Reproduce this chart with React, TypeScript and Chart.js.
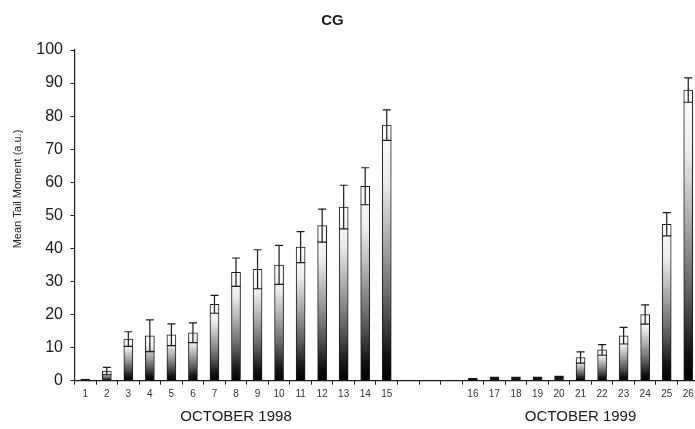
import React, { useEffect, useRef } from "react";
import { Chart, registerables } from "chart.js";

Chart.register(...registerables);

// ---- data ----
const dayLabels = [
  "1", "2", "3", "4", "5", "6", "7", "8", "9", "10", "11", "12", "13", "14", "15",
  "", "", "",
  "16", "17", "18", "19", "20", "21", "22", "23", "24", "25", "26",
];
const meanTailMoment: (number | null)[] = [
  0.5, 2.9, 12.6, 13.6, 13.9, 14.5, 23.1, 32.8, 33.7, 35.0, 40.4, 46.9, 52.5, 58.8, 77.3,
  null, null, null,
  0.8, 1.2, 1.2, 1.2, 1.5, 7.0, 9.3, 13.6, 20.0, 47.3, 87.9,
];
const errorValues: (number | null)[] = [
  0, 1.1, 2.2, 4.8, 3.3, 3.0, 2.7, 4.3, 5.9, 5.9, 4.7, 5.0, 6.6, 5.6, 4.6,
  null, null, null,
  0, 0, 0, 0, 0, 1.7, 1.6, 2.5, 2.9, 3.5, 3.7,
];
const yMin = 0;
const yMax = 100;
const yStep = 10;
const chartTitle = "CG";
const yAxisTitle = "Mean Tail Moment (a.u.)";
const groupLabels = ["OCTOBER 1998", "OCTOBER 1999"];
const groupCenterLabels = ["8", "21"];

const FONT = "'Liberation Sans', Arial, Helvetica, sans-serif";
const INK = "#1a1a1a";

const overlayPlugin = {
  id: "overlay",
  afterDatasetsDraw(chart: any) {
    const ctx = chart.ctx;
    const ys = chart.scales.y;
    const meta = chart.getDatasetMeta(0);
    ctx.save();
    ctx.strokeStyle = INK;
    ctx.lineWidth = 1.2;
    meta.data.forEach((el: any, i: number) => {
      const v = meanTailMoment[i];
      const e = errorValues[i];
      if (v == null || !e) return;
      const x = el.x;
      const yTop = ys.getPixelForValue(v + e);
      const yBot = ys.getPixelForValue(Math.max(0, v - e));
      const halfBar = el.width / 2;
      ctx.beginPath();
      ctx.moveTo(x, yBot);
      ctx.lineTo(x, yTop);
      ctx.moveTo(x - 4, yTop);
      ctx.lineTo(x + 4, yTop);
      ctx.moveTo(x - halfBar, yBot);
      ctx.lineTo(x + halfBar, yBot);
      ctx.stroke();
    });
    ctx.restore();
  },
  afterDraw(chart: any) {
    const ctx = chart.ctx;
    const xs = chart.scales.x;
    ctx.save();
    ctx.fillStyle = INK;
    ctx.textAlign = "center";
    ctx.textBaseline = "middle";
    ctx.font = `bold 15px ${FONT}`;
    ctx.fillText(chartTitle, 332.5, 20.5);

    ctx.font = `15px ${FONT}`;
    groupLabels.forEach((g, i) => {
      const idx = dayLabels.indexOf(groupCenterLabels[i]);
      ctx.fillText(g, xs.getPixelForValue(idx), 416.5);
    });

    ctx.translate(18, 189);
    ctx.rotate(-Math.PI / 2);
    ctx.font = `11px ${FONT}`;
    ctx.fillText(yAxisTitle, 0, 0);
    ctx.restore();
  },
};

function barFill(c: any) {
  const chart = c.chart;
  const v = c.raw;
  const ys = chart.scales && chart.scales.y;
  if (v == null || !ys || !chart.chartArea) return "#111";
  const base = ys.getPixelForValue(0);
  const top = ys.getPixelForValue(v);
  if (Math.abs(base - top) < 7) return "#111";
  const g = chart.ctx.createLinearGradient(0, base, 0, top);
  g.addColorStop(0, "#000000");
  g.addColorStop(0.1, "#141414");
  g.addColorStop(0.3, "#5e5e5e");
  g.addColorStop(0.55, "#ababab");
  g.addColorStop(0.78, "#ececec");
  g.addColorStop(1, "#ffffff");
  return g;
}

export default function App() {
  const canvasRef = useRef<HTMLCanvasElement | null>(null);

  useEffect(() => {
    if (!canvasRef.current) return;
    const yTickValues: number[] = [];
    for (let v = yMin; v <= yMax; v += yStep) yTickValues.push(v);

    const chart = new Chart(canvasRef.current, {
      type: "bar",
      data: {
        labels: dayLabels,
        datasets: [
          {
            data: meanTailMoment as any,
            backgroundColor: barFill as any,
            borderColor: INK,
            borderWidth: 1,
            borderSkipped: "bottom",
            barThickness: 9,
          },
        ],
      },
      plugins: [overlayPlugin],
      options: {
        responsive: false,
        animation: false,
        devicePixelRatio: 1,
        layout: { padding: { top: 50, right: 6, left: 0, bottom: 0 } },
        plugins: {
          legend: { display: false },
          title: { display: false },
          tooltip: { enabled: false },
        },
        scales: {
          x: {
            type: "category",
            offset: true,
            grid: {
              display: true,
              drawOnChartArea: false,
              drawTicks: true,
              tickLength: 4,
              offset: true,
              color: INK,
            },
            border: { display: true, color: INK, width: 1.2 },
            ticks: {
              autoSkip: false,
              maxRotation: 0,
              padding: 4,
              color: "#333",
              font: { family: FONT, size: 10 },
            },
            afterFit: (scale: any) => {
              scale.height = 48.3;
            },
          },
          y: {
            min: yMin,
            max: yMax,
            afterBuildTicks: (scale: any) => {
              scale.ticks = yTickValues.map((v) => ({ value: v }));
            },
            grid: {
              display: true,
              drawOnChartArea: false,
              drawTicks: true,
              tickLength: 4,
              color: INK,
            },
            border: { display: true, color: INK, width: 1.2 },
            ticks: {
              padding: 7.5,
              color: INK,
              font: { family: FONT, size: 16 },
            },
            afterFit: (scale: any) => {
              scale.width = 74.5;
            },
          },
        },
      },
    });
    return () => chart.destroy();
  }, []);

  return (
    <div
      style={{
        position: "fixed",
        left: 0,
        top: 0,
        width: 695,
        height: 429,
        overflow: "hidden",
        background: "#fff",
      }}
    >
      <canvas ref={canvasRef} width={705} height={429} style={{ display: "block" }} />
    </div>
  );
}
